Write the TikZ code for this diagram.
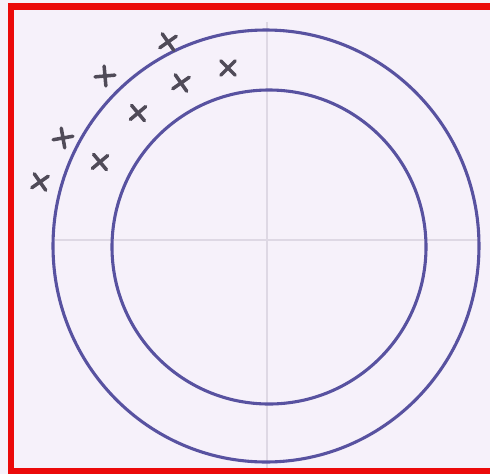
\documentclass[tikz,border=0pt]{standalone}
\usepackage{tikz}
\definecolor{bgpaper}{RGB}{246,241,250}
\definecolor{ringblue}{RGB}{88,82,160}
\definecolor{pencil}{RGB}{80,75,88}
\definecolor{guide}{RGB}{222,216,228}
\definecolor{framered}{RGB}{235,10,10}

\begin{document}
\begin{tikzpicture}[x=0.05cm, y=-0.05cm,
  ring/.style={draw=ringblue, line width=4.4pt},
  guideline/.style={draw=guide, line width=1.6pt},
  crossmk/.style={draw=pencil, line width=5pt, line cap=round}]
\useasboundingbox (0,0) rectangle (490,474);
\fill[bgpaper] (0,0) rectangle (490,474);
% faint axes
\draw[guideline] (267,22) -- (267,470);
\draw[guideline] (55,240) -- (478,240);
% rings
\coordinate (c) at (266,246);
\draw[ring] (c) ellipse [x radius=213, y radius=216];
\draw[ring] (269,247) ellipse [x radius=157, y radius=157];
% crosses
\foreach \px/\py/\rot in {168/42/35, 105/76/5, 63/138/10, 40/182/35,
                          100/162/40, 138/113/40, 181/83/35, 228/68/45}{
  \draw[crossmk, rotate around={\rot:(\px,\py)}]
    (\px-10,\py) -- (\px+10,\py) (\px,\py-10) -- (\px,\py+10);
}
% frame
\draw[framered, line width=9.5pt] (11,6.5) rectangle (505,471.5);
\end{tikzpicture}
\end{document}
